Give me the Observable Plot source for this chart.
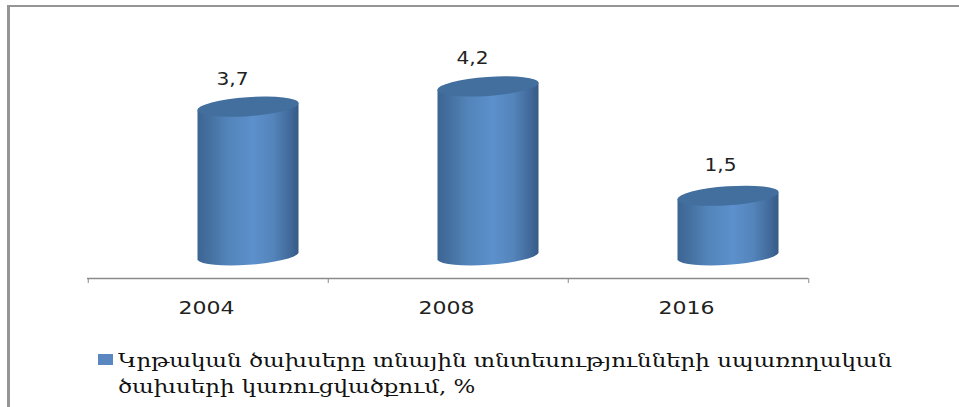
<!DOCTYPE html>
<html><head><meta charset="utf-8">
<script src="https://cdn.jsdelivr.net/npm/d3@7"></script>
<script src="https://cdn.jsdelivr.net/npm/@observablehq/plot@0.6"></script>
<style>
html,body{margin:0;padding:0;background:#fff;width:959px;height:407px;overflow:hidden}
#frame{position:absolute;left:7px;top:5px;width:952px;height:402px;box-sizing:border-box;border-top:2px solid #959595;border-left:3px solid #959595}
#chart{position:absolute;left:0;top:0}
#legend{position:absolute;left:98px;top:348px;width:840px;font:18.5px/26px "DejaVu Serif",serif;color:#111;padding-left:20px;box-sizing:border-box}
#legend i{position:absolute;left:0;top:6px;width:15px;height:11px;background:#5b87c0}
#legend div{transform:scaleX(1.238);transform-origin:left center;white-space:nowrap}
</style></head><body>
<div id="frame"></div>
<div id="chart"></div>
<div id="legend"><i></i></div>
<script>
const years = ["2004","2008","2016"];
const values = [3.7,4.2,1.5];
const valueLabels = ["3,7","4,2","1,5"];
const legendLines = ["Կրթական ծախսերը տնային տնտեսությունների սպառողական","ծախսերի կառուցվածքում, %"];
for (const l of legendLines){const d=document.createElement("div");d.textContent=l;document.getElementById("legend").append(d);}
const table = years.map((y,i)=>({year:y,value:values[i],label:valueLabels[i]}));

const rx = 51, ry = 9.5, tilt = -4;
function cylinders(index, scales, vals, dims, ctx, next){
  const g = next(index, scales, vals, dims, ctx);
  const ns = "http://www.w3.org/2000/svg";
  const defs = document.createElementNS(ns,"defs");
  defs.innerHTML = `<linearGradient id="cyl" x1="0" x2="1" y1="0" y2="0">
    <stop offset="0" stop-color="#3c6594"/><stop offset="0.12" stop-color="#44709f"/>
    <stop offset="0.3" stop-color="#5384ba"/><stop offset="0.55" stop-color="#5c90cc"/>
    <stop offset="0.75" stop-color="#5484bb"/><stop offset="0.92" stop-color="#41699a"/>
    <stop offset="1" stop-color="#355a84"/></linearGradient>`;
  g.prepend(defs);
  g.querySelectorAll("rect").forEach(r=>{
    const x=+r.getAttribute("x"), y=+r.getAttribute("y"), w=+r.getAttribute("width"), h=+r.getAttribute("height");
    const dyT = 3.5;
    const p = document.createElementNS(ns,"path");
    p.setAttribute("d",`M${x},${y+dyT}L${x},${y+h+dyT}A${rx},${ry} ${tilt} 0 0 ${x+w},${y+h-dyT}L${x+w},${y-dyT}A${rx},${ry} ${tilt} 0 1 ${x},${y+dyT}Z`);
    p.setAttribute("fill","url(#cyl)");
    const e = document.createElementNS(ns,"ellipse");
    e.setAttribute("cx",x+w/2); e.setAttribute("cy",y);
    e.setAttribute("rx",w/2+0.3); e.setAttribute("ry",ry);
    e.setAttribute("transform",`rotate(${tilt} ${x+w/2} ${y})`);
    e.setAttribute("fill","#436f9f");
    r.replaceWith(p); p.after(e);
  });
  return g;
}

const labelOffsets = {"2004":[24,-49],"2008":[24,-50],"2016":[32,-52.5]};
const font = "DejaVu Sans, sans-serif";
const plot = Plot.plot({
  width: 959, height: 340,
  marginLeft: 87, marginRight: 151, marginTop: 35, marginBottom: 62,
  style:{background:"transparent",fontFamily:font},
  x:{domain:years,padding:0,label:null},
  y:{domain:[0,6],axis:null,label:null},
  marks:[
    Plot.barY(table,{x:"year",y:"value",fill:"url(#cyl)",insetLeft:69.5,insetRight:69.5,dx:40,dy:-21.5,render:cylinders}),
    ...table.map(d=>Plot.text([d],{x:"year",y:"value",text:"label",dx:labelOffsets[d.year][0],dy:labelOffsets[d.year][1],fontSize:17,fill:"#222",className:"vlabel"})),
    Plot.ruleY([0],{stroke:"#8a8a8a",strokeWidth:1.5}),
    Plot.axisX({tickSize:0,tickPadding:23,fontSize:17,fill:"#222",label:null,anchor:"bottom",className:"xlabel",dx:-2}),
    Plot.axisX({ticks:years,tickSize:5,tickFormat:()=>"",stroke:"#8a8a8a",dx:-120.25,label:null}),
    Plot.axisX({ticks:["2016"],tickSize:5,tickFormat:()=>"",stroke:"#8a8a8a",dx:120.25,label:null})
  ]
});
document.getElementById("chart").append(plot);
// the reference's text is horizontally stretched
plot.querySelectorAll("text").forEach(t=>{
  const s=t.textContent;
  if (/^\d{4}$/.test(s)) {t.setAttribute("textLength",56);t.setAttribute("lengthAdjust","spacingAndGlyphs");}
  else if (/^\d,\d$/.test(s)) {t.setAttribute("textLength",32);t.setAttribute("lengthAdjust","spacingAndGlyphs");}
});
</script>
</body></html>
